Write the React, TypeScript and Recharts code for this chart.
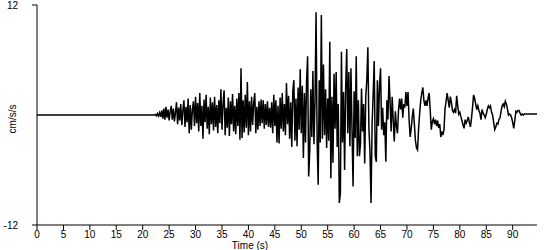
import { LineChart, Line, XAxis, YAxis } from "recharts";

const STEP = 0.2;
const quietStart = 0;
const quiet = [0];

const seg20 = [0, 0, 0, 0, 0, 0, 0, 0, 0, 0, 0, 0, 0.05, -0.1, 0.15, -0.1, 0.25, -0.2, 0.5, -0.4, 0.7, -0.5, 0.9, -0.3, 0.6];
const seg25 = [-0.6, 0.4, 1.0, -0.5, 0.7, -0.7, 0.3, 1.4, -1.0, 0.8, -0.6, 1.2, -1.1, 0.5, 1.6, -1.3, 0.9, -0.8, 1.8, -2.0, 1.1, -1.6, 0.6, 1.5, -1.2];
const seg30 = [2.0, -0.9, 1.3, -1.8, 2.4, -1.2, 1.0, -2.6, 1.7, -0.8, 2.2, -1.5, 0.9, -2.1, 1.9, -1.0, 1.4, -1.7, 2.0, -1.3, 1.1, -2.0, 1.6, -0.9, 2.8];
const seg35 = [-1.6, 1.2, 2.7, -2.2, 0.8, -1.4, 1.9, -2.3, 1.5, -1.0, 2.3, -1.8, 1.0, -2.1, 1.8, -1.2, 2.4, -2.7, 5.1, -2.5, 1.6, -1.9, 2.2, -1.4, 3.6];
const seg40 = [-2.2, 1.5, -1.8, 2.0, -1.1, 1.3, 2.4, -2.0, 0.9, -1.6, 1.5, -1.2, 1.7, -0.9, 1.6, -1.5, 1.2, -1.1, 1.5, -1.3, 0.8, -1.4, 1.4, -2.0, 2.2];
const seg45 = [-1.2, 1.6, -3.0, 1.0, -3.1, 1.9, -1.5, 2.4, -1.8, 1.2, -2.2, 3.5, -1.0, 2.1, -2.6, 1.4, -3.5, 2.6, 3.8, -2.8, 1.8, -3.4, 3.0, -1.6, 5.0];
const seg50 = [-2.0, 3.2, -4.7, 2.4, -3.0, 3.6, 6.4, -6.7, -4.0, 2.8, -2.4, 4.8, -3.2, 1.5, 11.2, -2.8, -7.6, 3.8, -3.0, 10.9, -2.6, 5.5, -2.2, 2.8, -3.6];
const seg55 = [1.8, -2.8, 8.0, -6.9, 2.0, -5.2, 4.5, -1.5, 4.7, -3.5, 1.2, -9.6, -8.5, 6.9, -3.0, 2.5, -6.0, 3.0, 7.2, -2.0, 4.7, -3.4, 5.1, -1.5, -7.8];
const seg60 = [2.6, -2.5, 6.4, -4.5, 1.6, -4.5, -3.2, 2.9, -1.8, 1.2, -5.3, 2.0, 3.8, 7.4, -1.5, -4.0, -9.6, -1.0, 2.2, 5.9, -4.5, -5.1, 3.8, -1.2, 3.2];
const seg65 = [5.1, -1.6, 0.8, -2.2, -0.8, -5.1, 1.6, -0.5, 4.25, 1.5, -1.8, 2.0, -0.6, -2.9, 0.4, -1.2, -2.0, 0.5, 1.8, 0.6, 1.8, -0.3, 1.2, 0.8, 2.5];
const seg70 = [1.0, 2.5, -0.5, -2.4, -1.5, -0.2, 0.7, -1.0, -2.8, -3.6, -3.8, -1.5, 0.2, 1.6, 2.4, 3.0, 1.6, 1.0, 1.6, 1.0, 1.9, 2.4, 0.5, -1.6, -0.7];
const seg75 = [-0.4, -1.0, -0.5, -1.2, -0.6, -1.4, -1.0, -2.4, -1.8, -2.2, -1.6, 0.7, 1.5, 2.4, 1.6, 0.8, 2.0, 1.4, 0.5, 0.3, 0.6, 0.2, 2.1, 1.0, 0.1];
const seg80 = [0.3, -0.2, -0.6, -1.1, -1.45, -0.5, -0.9, -0.6, -0.2, -0.8, -1.3, -0.4, 0.8, 2.2, 1.8, 1.2, 0.6, 1.0, 0.5, 0.2, -0.5, 0.6, 0.2, 0.0, -0.3];
const seg85 = [0.1, 0.6, 1.0, 0.8, 1.0, 0.3, 0.0, -0.8, -1.6, -1.3, -0.9, -1.0, -0.5, -0.3, 0.4, 1.0, 1.2, 0.9, 1.5, 1.2, 0.7, 0.0, 0.1, 0.0, -0.3];
const seg90 = [-0.8, -1.45, -0.6, 0.4, 0.3, 0.5, 0.5, 0.2, 0.0, 0.1, 0.0, 0.1, 0.1, 0.1, 0.1, 0.1, 0.1, 0.1, 0.1, 0.1, 0.1, 0.1, 0.1, 0.1];

const segStarts = [20, 25, 30, 35, 40, 45, 50, 55, 60, 65, 70, 75, 80, 85, 90];
const segments = [seg20, seg25, seg30, seg35, seg40, seg45, seg50, seg55, seg60, seg65, seg70, seg75, seg80, seg85, seg90];

const xTicks = [0, 5, 10, 15, 20, 25, 30, 35, 40, 45, 50, 55, 60, 65, 70, 75, 80, 85, 90];
const yTicks = [-12, 12];

const data: { t: number; a: number }[] = [];
quiet.forEach((a, i) => data.push({ t: quietStart + i * STEP, a }));
segments.forEach((seg, k) => {
  seg.forEach((a, i) => data.push({ t: Math.round((segStarts[k] + i * STEP) * 10) / 10, a }));
});

const font = "'Liberation Sans', Arial, sans-serif";
const tickStyle = { fontSize: 10, fill: "#000", fontFamily: font };

export default function App() {
  return (
    <div style={{ position: "absolute", left: 0, top: 0, width: 550, height: 250, background: "#fff" }}>
      <LineChart width={550} height={250} data={data} margin={{ top: 5, right: 13, left: 0, bottom: 0 }}>
        <XAxis
          dataKey="t"
          type="number"
          domain={[0, 94.6]}
          ticks={xTicks}
          interval={0}
          height={25}
          tickSize={5}
          tickMargin={1}
          axisLine={{ stroke: "#000" }}
          tickLine={{ stroke: "#000" }}
          tick={tickStyle}
        />
        <YAxis
          type="number"
          domain={[-12, 12]}
          ticks={yTicks}
          width={37}
          tickSize={5}
          tickMargin={14}
          axisLine={{ stroke: "#000" }}
          tickLine={{ stroke: "#000" }}
          tick={tickStyle}
        />
        <Line dataKey="a" type="linear" stroke="#000" strokeWidth={1.5} dot={false} isAnimationActive={false} />
      </LineChart>
      <div style={{ position: "absolute", left: 12, top: 119, transform: "translate(-50%, -50%) rotate(-90deg)", fontSize: 10, fontFamily: font, whiteSpace: "nowrap" }}>
        cm/s/s
      </div>
      <div style={{ position: "absolute", left: 250, top: 245.5, transform: "translate(-50%, -50%)", fontSize: 10, lineHeight: "10px", fontFamily: font, whiteSpace: "nowrap" }}>
        Time (s)
      </div>
    </div>
  );
}
